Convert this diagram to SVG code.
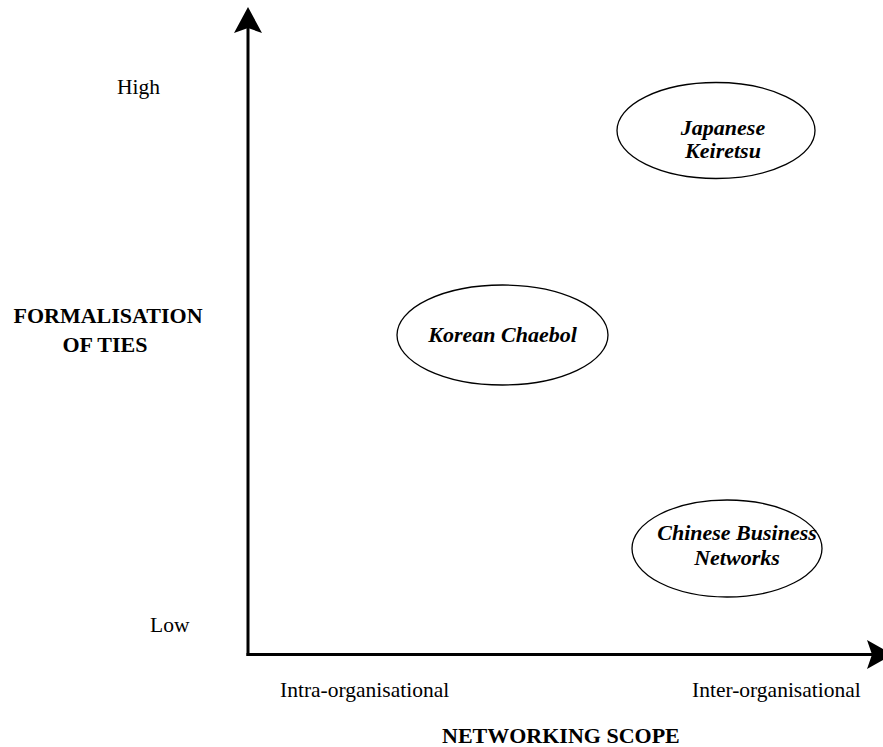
<svg xmlns="http://www.w3.org/2000/svg" width="883" height="747" viewBox="0 0 883 747">
<style>
.lbl{font-family:"Liberation Serif","Times New Roman",serif;font-size:21.5px;fill:#000}
.ttl{font-family:"Liberation Serif","Times New Roman",serif;font-size:22px;font-weight:bold;fill:#000}
.nd{font-family:"Liberation Serif","Times New Roman",serif;font-size:22px;font-weight:bold;font-style:italic;fill:#000;text-anchor:middle}
.ell{fill:#fff;stroke:#000;stroke-width:1.3}
.axis{stroke:#000;stroke-width:3;fill:none}
</style>
<rect width="883" height="747" fill="#fff"/>
<g id="connectors">
<line class="axis" x1="248" y1="28" x2="248" y2="656"/>
<line class="axis" x1="246.5" y1="654.5" x2="874" y2="654.5"/>
<polygon points="248,7 262,33 248,28 234,33" fill="#000"/>
<polygon points="893,654.5 867,669 872,654.5 867,640" fill="#000"/>
</g>
<g id="axis-labels">
<text class="lbl" x="117" y="94">High</text>
<text class="lbl" x="150" y="632">Low</text>
<text class="ttl" x="108" y="323" text-anchor="middle">FORMALISATION</text>
<text class="ttl" x="105" y="352" text-anchor="middle">OF TIES</text>
<text class="lbl" x="280" y="697">Intra-organisational</text>
<text class="lbl" x="692" y="697">Inter-organisational</text>
<text class="ttl" x="442" y="743">NETWORKING SCOPE</text>
</g>
<g id="japanese-keiretsu">
<ellipse class="ell" cx="716" cy="130.5" rx="99" ry="48"/>
<text class="nd" x="723" y="134.5">Japanese</text>
<text class="nd" x="723" y="158">Keiretsu</text>
</g>
<g id="korean-chaebol">
<ellipse class="ell" cx="502.5" cy="335" rx="105.5" ry="50"/>
<text class="nd" x="502.5" y="342">Korean Chaebol</text>
</g>
<g id="chinese-business-networks">
<ellipse class="ell" cx="727" cy="548.5" rx="95" ry="48.5"/>
<text class="nd" x="737" y="540">Chinese Business</text>
<text class="nd" x="737" y="565">Networks</text>
</g>
</svg>
